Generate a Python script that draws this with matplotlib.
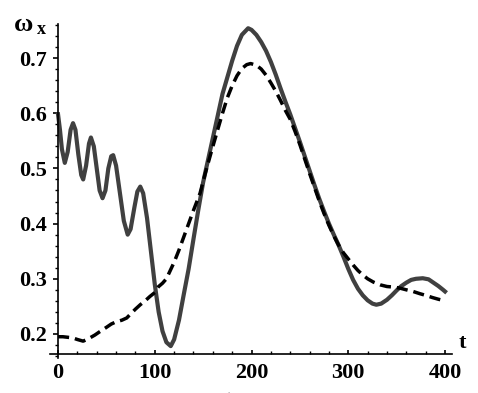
import numpy as np
import matplotlib
matplotlib.use("Agg")
import matplotlib.pyplot as plt
from matplotlib.ticker import MultipleLocator, FormatStrFormatter

# solid curve (t, omega_x)
t_solid = [0, 2, 4, 7, 10, 13, 15.5, 18, 21, 24, 26, 29, 32, 34, 37, 40, 43, 46,
           49, 52, 55, 57, 60, 64, 68, 72, 75, 79, 82, 85, 88, 92, 96, 100, 104,
           108, 112, 116.5, 120, 125, 130, 135, 140, 145, 150, 155, 160, 165, 170,
           175, 180, 185, 190, 196.5, 200, 205, 210, 215, 220, 225, 230, 235, 240,
           245, 250, 255, 260, 265, 270, 275, 280, 285, 290, 295, 300, 305, 310,
           315, 320, 325, 329, 334, 340, 345, 350, 355, 360, 365, 370, 377, 383,
           388, 393, 398, 400]
w_solid = [0.598, 0.570, 0.535, 0.510, 0.530, 0.570, 0.582, 0.570, 0.525, 0.488,
           0.480, 0.505, 0.545, 0.556, 0.540, 0.500, 0.460, 0.446, 0.460, 0.500,
           0.522, 0.524, 0.505, 0.455, 0.405, 0.380, 0.390, 0.430, 0.458, 0.467,
           0.455, 0.410, 0.350, 0.290, 0.240, 0.205, 0.185, 0.178, 0.190, 0.225,
           0.272, 0.318, 0.372, 0.425, 0.475, 0.515, 0.555, 0.595, 0.635, 0.665,
           0.695, 0.722, 0.742, 0.754, 0.751, 0.742, 0.729, 0.713, 0.693, 0.670,
           0.645, 0.621, 0.598, 0.573, 0.548, 0.522, 0.496, 0.470, 0.445, 0.422,
           0.400, 0.380, 0.361, 0.340, 0.318, 0.298, 0.282, 0.270, 0.261, 0.255,
           0.253, 0.255, 0.262, 0.270, 0.279, 0.287, 0.293, 0.298, 0.300, 0.301,
           0.299, 0.293, 0.287, 0.280, 0.277]

# dashed curve
t_dash = [0, 5, 10, 15, 20, 26, 32, 38, 43, 50, 55, 60, 66, 71, 76, 80, 85, 90, 95,
          100, 104, 108, 112, 116, 120, 125, 130, 135, 140, 146.8, 152, 158.9, 165,
          170, 175, 180, 185, 190, 195, 199, 205, 210, 215, 220, 225, 230, 235, 240,
          245, 250, 255, 260, 265, 270, 275, 280, 285, 290, 295, 300, 305, 310, 315,
          320, 326, 333, 340, 347, 353.5, 360, 367, 374, 380, 387, 393, 400]
w_dash = [0.195, 0.195, 0.194, 0.193, 0.190, 0.187, 0.192, 0.198, 0.204, 0.212,
          0.218, 0.222, 0.225, 0.229, 0.238, 0.245, 0.253, 0.260, 0.268, 0.275,
          0.286, 0.292, 0.300, 0.315, 0.330, 0.352, 0.376, 0.400, 0.424, 0.455,
          0.490, 0.533, 0.570, 0.600, 0.628, 0.650, 0.668, 0.681, 0.688, 0.690,
          0.687, 0.680, 0.669, 0.655, 0.640, 0.623, 0.605, 0.589, 0.567, 0.543,
          0.517, 0.491, 0.466, 0.441, 0.418, 0.397, 0.378, 0.361, 0.347, 0.336,
          0.325, 0.315, 0.307, 0.300, 0.294, 0.289, 0.286, 0.285, 0.283, 0.280,
          0.277, 0.273, 0.270, 0.266, 0.263, 0.260]

font = "Liberation Serif"

fig = plt.figure(figsize=(4.78, 3.93), dpi=100)
ax = fig.add_axes([0.1052, 0.0898, 0.840, 0.8496])

ax.plot(t_solid, w_solid, color="#404040", lw=3.0, solid_joinstyle="round")
ax.plot(t_dash, w_dash, color="black", lw=2.5, dashes=(3.2, 1.7))

ax.set_xlim(-8, 407)
ax.set_ylim(0.157, 0.762)

ax.spines["top"].set_visible(False)
ax.spines["right"].set_visible(False)
ax.spines["left"].set_position(("data", 0))
ax.spines["bottom"].set_position(("data", 0.164))
ax.spines["left"].set_linewidth(1.2)
ax.spines["bottom"].set_linewidth(1.2)

ax.xaxis.set_major_locator(MultipleLocator(100))
ax.xaxis.set_minor_locator(MultipleLocator(20))
ax.yaxis.set_major_locator(MultipleLocator(0.1))
ax.yaxis.set_minor_locator(MultipleLocator(0.02))
ax.yaxis.set_major_formatter(FormatStrFormatter("%.1f"))
ax.set_yticks([0.2, 0.3, 0.4, 0.5, 0.6, 0.7])

ax.tick_params(axis="x", which="major", direction="in", length=3, width=1.2, pad=6.5)
ax.tick_params(axis="x", which="minor", direction="in", length=2.5, width=1.0)
ax.tick_params(axis="y", which="major", direction="out", length=3.6, width=1.2, pad=4.5)
ax.tick_params(axis="y", which="minor", direction="out", length=2.4, width=1.0)

for lab in ax.get_xticklabels() + ax.get_yticklabels():
    lab.set_fontfamily(font)
    lab.set_fontweight("bold")
    lab.set_fontsize(16)

# axis labels
fig.text(14 / 478, 1 - 31 / 393, "ω", family=font, fontweight="bold", fontsize=19)
fig.text(37 / 478, 1 - 34 / 393, "x", family=font, fontweight="bold", fontsize=13)
fig.text(459 / 478, 1 - 348 / 393, "t", family=font, fontweight="bold", fontsize=16)
fig.text(220 / 478, -0.04, "б)", family=font, fontsize=15)

fig.savefig("out.png", dpi=100)
